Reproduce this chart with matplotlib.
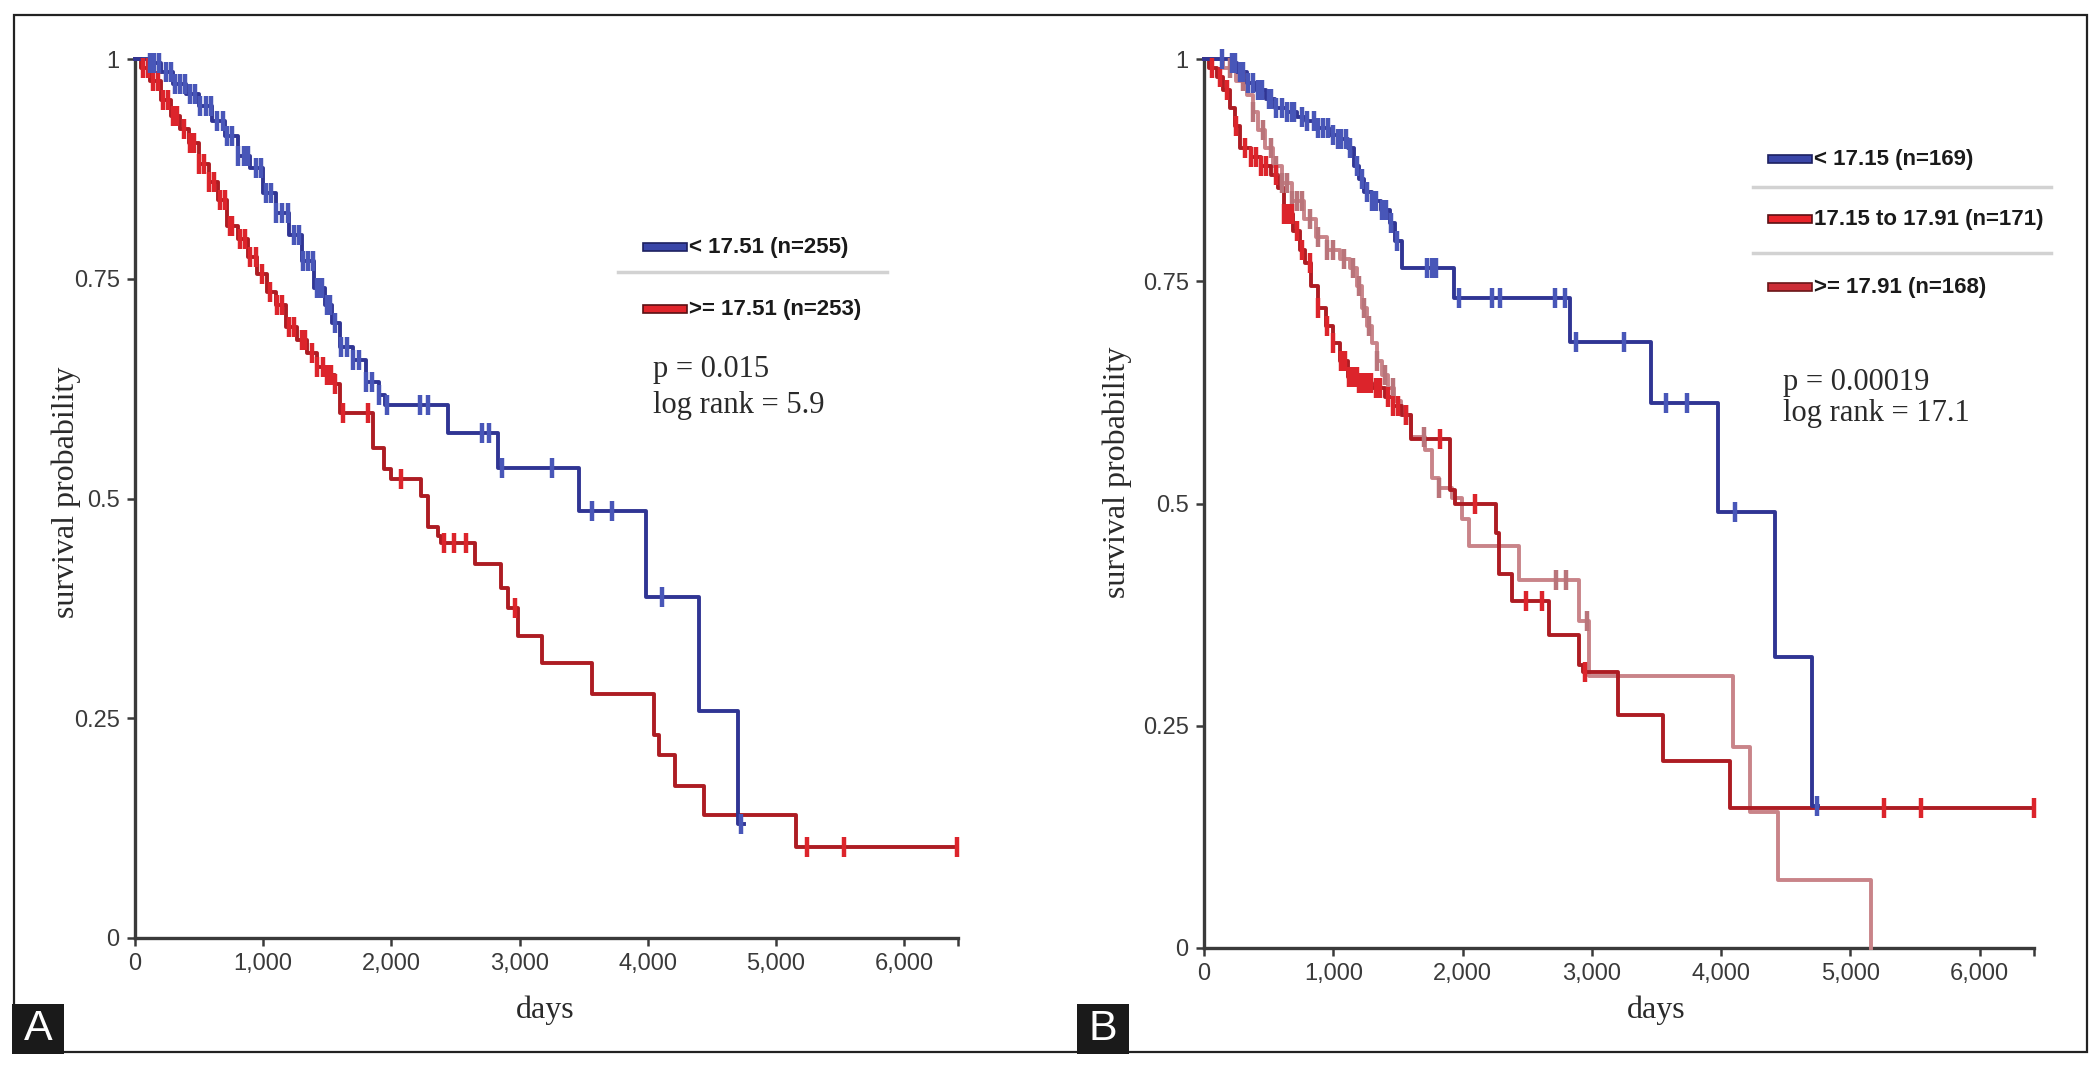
import numpy as np
import matplotlib.pyplot as plt
from matplotlib.patches import Rectangle
from matplotlib.lines import Line2D

# ---- data ----
x_ticks = [0, 1000, 2000, 3000, 4000, 5000, 6000]
x_tick_labels = ['0', '1,000', '2,000', '3,000', '4,000', '5,000', '6,000']
y_ticks = [0, 0.25, 0.5, 0.75, 1]
y_tick_labels = ['0', '0.25', '0.5', '0.75', '1']
x_max = 6420

# panel A, < 17.51 (blue)
a_low_t = [0, 100, 200, 300, 400, 500, 600, 700, 800, 900, 1000, 1100, 1200, 1300,
           1400, 1480, 1540, 1600, 1700, 1800, 1900, 1950, 2440, 2830, 3460, 3990,
           4400, 4700]
a_low_s = [1.0, 0.995, 0.985, 0.972, 0.96, 0.947, 0.93, 0.912, 0.89, 0.876, 0.848,
           0.825, 0.80, 0.77, 0.74, 0.72, 0.70, 0.672, 0.658, 0.632, 0.618, 0.606,
           0.575, 0.535, 0.486, 0.388, 0.258, 0.130]
a_low_end = 4750
a_low_cens = [120, 150, 190, 240, 280, 310, 350, 390, 430, 470, 510, 550, 590, 640,
              690, 720, 760, 800, 850, 880, 940, 980, 1020, 1060, 1100, 1150, 1190,
              1240, 1280, 1310, 1350, 1390, 1420, 1440, 1460, 1500, 1520, 1560,
              1610, 1650, 1700, 1750, 1800, 1850, 1900, 1964, 2223, 2287, 2710,
              2760, 2860, 3253, 3563, 3720, 4112, 4728]

# panel A, >= 17.51 (red)
a_high_t = [0, 50, 120, 200, 280, 350, 420, 500, 580, 650, 720, 800, 880, 950, 1030,
            1100, 1180, 1260, 1340, 1420, 1500, 1560, 1600, 1860, 1940, 2000, 2231,
            2283, 2361, 2388, 2649, 2858, 2910, 2988, 3171, 3563, 4049, 4086, 4216,
            4436, 5157]
a_high_s = [1.0, 0.99, 0.975, 0.953, 0.935, 0.92, 0.905, 0.88, 0.86, 0.84, 0.81,
            0.795, 0.775, 0.755, 0.735, 0.72, 0.695, 0.68, 0.665, 0.65, 0.64, 0.63,
            0.597, 0.557, 0.534, 0.522, 0.503, 0.468, 0.457, 0.449, 0.425, 0.398,
            0.375, 0.344, 0.313, 0.278, 0.231, 0.208, 0.173, 0.140, 0.103]
a_high_end = 6411
a_high_cens = [60, 100, 140, 180, 220, 260, 300, 330, 380, 430, 460, 500, 540, 580,
               620, 660, 700, 740, 760, 820, 860, 900, 940, 990, 1050, 1110, 1150,
               1200, 1240, 1300, 1330, 1380, 1420, 1470, 1500, 1530, 1560, 1625,
               1820, 2074, 2414, 2492, 2581, 2962, 5245, 5533, 6411]

# panel B, < 17.15 (blue)
b_low_t = [0, 200, 258, 330, 406, 480, 552, 640, 720, 790, 880, 970, 1040, 1114,
           1160, 1200, 1240, 1300, 1370, 1440, 1480, 1530, 1932, 2833, 3460, 3978,
           4417, 4702]
b_low_s = [1.0, 0.995, 0.985, 0.973, 0.965, 0.955, 0.945, 0.94, 0.935, 0.93, 0.922,
           0.915, 0.91, 0.90, 0.88, 0.865, 0.85, 0.84, 0.83, 0.815, 0.795, 0.765,
           0.731, 0.682, 0.613, 0.49, 0.327, 0.16]
b_low_end = 4750
b_low_cens = [140, 220, 240, 280, 300, 340, 380, 420, 450, 500, 520, 560, 600, 640,
              680, 700, 760, 800, 850, 880, 920, 960, 1000, 1040, 1060, 1100, 1130,
              1180, 1220, 1260, 1300, 1330, 1380, 1410, 1450, 1490, 1725, 1760,
              1795, 1975, 2230, 2290, 2716, 2794, 2877, 3250, 3576, 3738, 4106,
              4743]

# panel B, 17.15 to 17.91 (red)
b_mid_t = [0, 40, 100, 150, 200, 240, 280, 360, 440, 520, 570, 620, 690, 740, 780,
           830, 880, 940, 1000, 1050, 1110, 1200, 1300, 1400, 1460, 1530, 1600,
           1900, 1940, 2255, 2280, 2385, 2670, 2903, 2930, 3204, 3551, 4069]
b_mid_s = [1.0, 0.99, 0.98, 0.965, 0.945, 0.925, 0.90, 0.89, 0.88, 0.87, 0.855,
           0.826, 0.807, 0.785, 0.77, 0.745, 0.72, 0.70, 0.68, 0.66, 0.642, 0.635,
           0.63, 0.62, 0.61, 0.60, 0.572, 0.515, 0.50, 0.467, 0.421, 0.39, 0.352,
           0.318, 0.31, 0.262, 0.21, 0.157]
b_mid_end = 6418
b_mid_cens = [60, 120, 180, 250, 320, 360, 400, 440, 480, 560, 620, 650, 680, 720,
              760, 820, 880, 950, 1000, 1060, 1090, 1120, 1150, 1180, 1200, 1230,
              1260, 1290, 1330, 1360, 1420, 1460, 1500, 1560, 1826, 2100, 2488,
              2618, 2950, 5262, 5547, 6418]

# panel B, >= 17.91 (pink)
b_high_t = [0, 150, 250, 330, 380, 420, 470, 530, 600, 680, 770, 870, 950, 1050,
            1130, 1180, 1220, 1260, 1300, 1340, 1380, 1420, 1470, 1520, 1600, 1710,
            1760, 1814, 1918, 1996, 2048, 2436, 2903, 2980, 4095, 4225, 4443, 5158]
b_high_s = [1.0, 0.99, 0.975, 0.96, 0.94, 0.92, 0.90, 0.88, 0.86, 0.84, 0.82, 0.80,
            0.785, 0.775, 0.765, 0.745, 0.72, 0.70, 0.68, 0.66, 0.645, 0.63, 0.615,
            0.60, 0.575, 0.56, 0.529, 0.517, 0.506, 0.483, 0.452, 0.414, 0.368,
            0.306, 0.226, 0.153, 0.076, 0.0]
b_high_end = 5158
b_high_cens = [200, 300, 380, 460, 520, 560, 600, 640, 680, 720, 760, 820, 880, 950,
               1000, 1080, 1150, 1200, 1240, 1280, 1340, 1400, 1460, 1560, 1700,
               1814, 2722, 2800, 2960]

legend_a = ['< 17.51 (n=255)', '>= 17.51 (n=253)']
legend_b = ['< 17.15 (n=169)', '17.15 to 17.91 (n=171)', '>= 17.91 (n=168)']
stats_a = ['p = 0.015', 'log rank = 5.9']
stats_b = ['p = 0.00019', 'log rank = 17.1']

# ---- layout (pixels of the 2100x1070 output) ----
W, H = 2100, 1070
SANS = ['Liberation Sans', 'DejaVu Sans']
SERIF = ['Liberation Serif', 'DejaVu Serif']

BLUE, BLUE_M = '#303594', '#4856b8'
RED, RED_M = '#ad1c23', '#dc242b'
PINK, PINK_M = '#c98489', '#b9747a'


def fx(x):
    return x / W


def fy(y):
    return 1 - y / H


def setup(ax):
    ax.set_xlim(0, x_max)
    ax.set_ylim(0, 1)
    ax.spines['top'].set_visible(False)
    ax.spines['right'].set_visible(False)
    for s in ['left', 'bottom']:
        ax.spines[s].set_linewidth(2.4)
        ax.spines[s].set_color('#3a3a3a')
    ax.set_xticks(x_ticks + [x_max])
    ax.set_xticklabels(x_tick_labels + [''])
    ax.set_yticks(y_ticks)
    ax.set_yticklabels(y_tick_labels)
    ax.tick_params(direction='out', length=6, width=1.8, color='#3a3a3a',
                   labelsize=17, labelcolor='#3a3a3a', pad=5)
    for lab in ax.get_xticklabels() + ax.get_yticklabels():
        lab.set_family(SANS)
    ax.patch.set_alpha(0)


def km(ax, t, s, t_end, cens, color, mcolor):
    tt = list(t) + [t_end]
    ss = list(s) + [s[-1]]
    ax.step(tt, ss, where='post', color=color, lw=2.8, clip_on=False, zorder=3)
    idx = np.searchsorted(t, cens, side='right') - 1
    cy = np.array(s)[idx]
    ax.plot(cens, cy, ls='none', marker='|', ms=14, mew=3.2, color=mcolor,
            clip_on=False, zorder=4)


def legend(x_sw, x_line0, x_line1, ys, seps, labels, fills, edges):
    for y, lab, fc, ec in zip(ys, labels, fills, edges):
        fig.add_artist(Rectangle((fx(x_sw), fy(y + 4)), 44 / W, 8 / H,
                                 transform=fig.transFigure, facecolor=fc,
                                 edgecolor=ec, lw=1.2))
        fig.text(fx(x_sw + 46), fy(y), lab, fontsize=16, color='#1a1a1a',
                 family=SANS, weight='semibold', va='center', ha='left')
    for y in seps:
        fig.add_artist(Line2D([fx(x_line0), fx(x_line1)], [fy(y), fy(y)],
                              transform=fig.transFigure, color='#d2d2d2', lw=2.5))


fig = plt.figure(figsize=(21, 10.7), dpi=100)

# panel A
axA = fig.add_axes([fx(135), fy(938), (958 - 135) / W, (938 - 59) / H])
setup(axA)
km(axA, a_high_t, a_high_s, a_high_end, a_high_cens, RED, RED_M)
km(axA, a_low_t, a_low_s, a_low_end, a_low_cens, BLUE, BLUE_M)

# panel B
axB = fig.add_axes([fx(1204), fy(948), (2034 - 1204) / W, (948 - 59) / H])
setup(axB)
km(axB, b_high_t, b_high_s, b_high_end, b_high_cens, PINK, PINK_M)
km(axB, b_mid_t, b_mid_s, b_mid_end, b_mid_cens, RED, RED_M)
km(axB, b_low_t, b_low_s, b_low_end, b_low_cens, BLUE, BLUE_M)

# axis labels
for x, y in [(545, 1010), (1656, 1010)]:
    fig.text(fx(x), fy(y), 'days', fontsize=23, family=SERIF, color='#2a2a2a',
             ha='center', va='center')
for x, y in [(66, 492), (1117, 472)]:
    fig.text(fx(x), fy(y), 'survival probability', fontsize=23, family=SERIF,
             color='#2a2a2a', ha='center', va='center', rotation=90)

# legends
legend(643, 618, 887, [247, 309], [272], legend_a,
       ['#3a46a8', '#e0242b'], ['#1c2060', '#5a1014'])
legend(1768, 1753, 2051, [159, 219, 287], [187, 253], legend_b,
       ['#3a46a8', '#e8232a', '#cc2d37'], ['#1c2060', '#5a1014', '#6a1518'])

# statistics
for x, ys, lines in [(653, [369, 406], stats_a), (1783, [382, 414], stats_b)]:
    for y, txt in zip(ys, lines):
        fig.text(fx(x), fy(y), txt, fontsize=22, family=SERIF, color='#2a2a2a',
                 ha='left', va='center')

# outer frame
fig.add_artist(Rectangle((fx(14), fy(1052)), (2087 - 14) / W, (1052 - 15) / H,
                         transform=fig.transFigure, fill=False,
                         edgecolor='#222222', lw=1.6))

# panel letters
for x0, letter in [(12, 'A'), (1077, 'B')]:
    fig.add_artist(Rectangle((fx(x0), fy(1054)), 52 / W, 50 / H,
                             transform=fig.transFigure, facecolor='#1a1a1a',
                             edgecolor='none'))
    fig.text(fx(x0 + 26), fy(1029), letter, fontsize=31, family=SANS,
             color='white', ha='center', va='center')

fig.savefig('out.png', dpi=100)
